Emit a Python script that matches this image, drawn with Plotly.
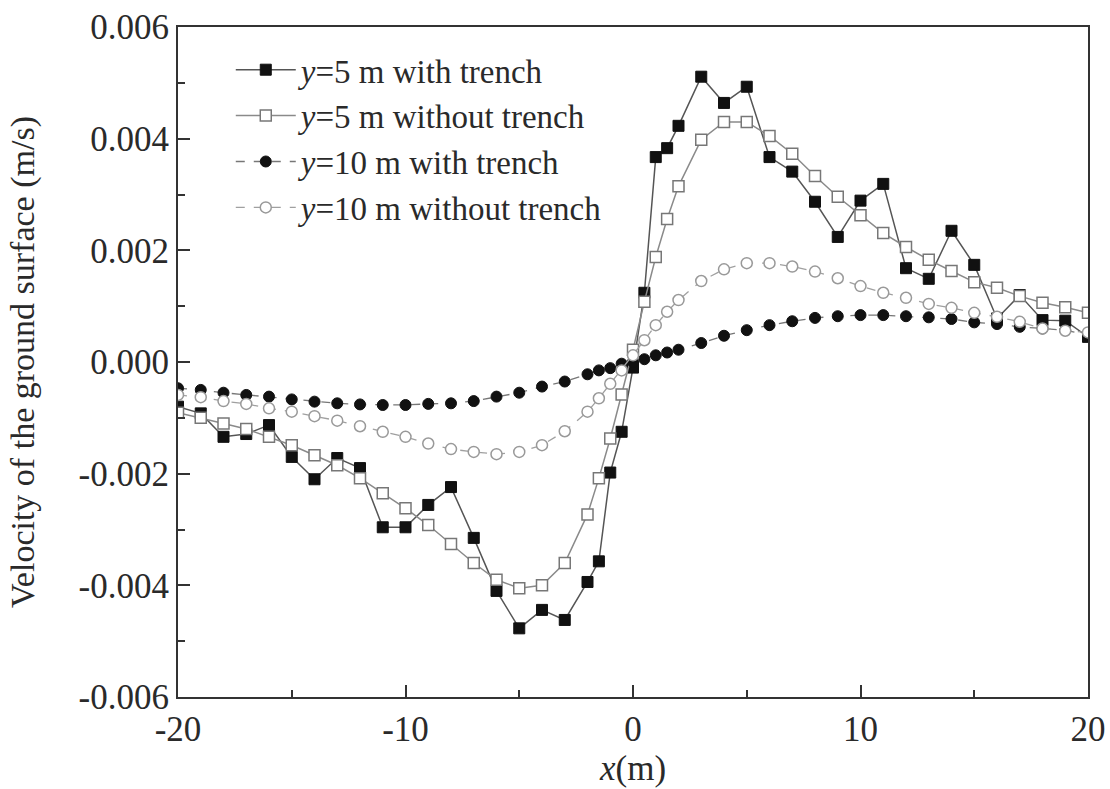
import plotly.graph_objects as go

x_pos = [-20, -19, -18, -17, -16, -15, -14, -13, -12, -11, -10, -9, -8, -7, -6, -5, -4, -3, -2,
         -1.5, -1, -0.5, 0, 0.5, 1, 1.5, 2,
         3, 4, 5, 6, 7, 8, 9, 10, 11, 12, 13, 14, 15, 16, 17, 18, 19, 20]

# values in 1e-3 m/s
y5_with = [-0.80, -0.92, -1.34, -1.29, -1.13, -1.70, -2.10, -1.72, -1.90, -2.96, -2.96, -2.56, -2.24, -3.15, -4.10, -4.77, -4.44, -4.62, -3.94,
           -3.57, -1.98, -1.25, -0.10, 1.24, 3.67, 3.83, 4.23,
           5.11, 4.64, 4.93, 3.67, 3.41, 2.87, 2.24, 2.89, 3.19, 1.68, 1.49, 2.35, 1.74, 0.78, 1.20, 0.75, 0.74, 0.45]
y5_without = [-0.91, -1.00, -1.10, -1.20, -1.34, -1.49, -1.67, -1.85, -2.08, -2.35, -2.62, -2.92, -3.26, -3.60, -3.90, -4.05, -4.00, -3.60, -2.73,
              -2.08, -1.37, -0.58, 0.22, 1.08, 1.88, 2.56, 3.15,
              3.98, 4.30, 4.30, 4.05, 3.73, 3.33, 2.96, 2.63, 2.31, 2.06, 1.83, 1.63, 1.43, 1.33, 1.18, 1.06, 0.98, 0.88]
y10_with = [-0.47, -0.50, -0.55, -0.59, -0.62, -0.67, -0.71, -0.74, -0.76, -0.77, -0.77, -0.75, -0.74, -0.70, -0.62, -0.55, -0.44, -0.35, -0.22,
            -0.15, -0.11, -0.03, 0.00, 0.05, 0.12, 0.17, 0.22,
            0.34, 0.47, 0.57, 0.66, 0.73, 0.79, 0.82, 0.84, 0.84, 0.82, 0.80, 0.77, 0.71, 0.68, 0.63, 0.60, 0.57, 0.48]
y10_without = [-0.59, -0.63, -0.70, -0.75, -0.83, -0.89, -0.97, -1.05, -1.15, -1.25, -1.34, -1.46, -1.56, -1.61, -1.65, -1.61, -1.49, -1.24, -0.89,
               -0.65, -0.39, -0.15, 0.12, 0.39, 0.66, 0.90, 1.11,
               1.45, 1.66, 1.77, 1.77, 1.71, 1.62, 1.50, 1.36, 1.24, 1.15, 1.04, 0.97, 0.88, 0.81, 0.72, 0.60, 0.56, 0.53]

series_names = ["<i>y</i>=5 m with trench", "<i>y</i>=5 m without trench",
                "<i>y</i>=10 m with trench", "<i>y</i>=10 m without trench"]

x_ticks = [-20, -10, 0, 10, 20]
x_ticktext = ["-20", "-10", "0", "10", "20"]
x_minor = [-15, -5, 5, 15]
y_ticks = [-0.006, -0.004, -0.002, 0.0, 0.002, 0.004, 0.006]
y_ticktext = ["-0.006", "-0.004", "-0.002", "0.000", "0.002", "0.004", "0.006"]
y_minor = [-0.005, -0.003, -0.001, 0.001, 0.003, 0.005]

def scale(v):
    return [a * 1e-3 for a in v]

FONT = "Liberation Serif, Times New Roman, serif"
TXT = "#2a2a2a"

fig = go.Figure()
fig.add_trace(go.Scatter(
    x=x_pos, y=scale(y5_with), name=series_names[0], mode="lines+markers",
    line=dict(color="#555555", width=1.5),
    marker=dict(symbol="square", size=11, color="#111111", line=dict(color="#111111", width=1))))
fig.add_trace(go.Scatter(
    x=x_pos, y=scale(y5_without), name=series_names[1], mode="lines+markers",
    line=dict(color="#8a8a8a", width=1.5),
    marker=dict(symbol="square", size=11, color="white", line=dict(color="#777777", width=1.5))))
fig.add_trace(go.Scatter(
    x=x_pos, y=scale(y10_with), name=series_names[2], mode="lines+markers",
    line=dict(color="#777777", width=1.3, dash="dash"),
    marker=dict(symbol="circle", size=11, color="#111111", line=dict(color="#111111", width=1))))
fig.add_trace(go.Scatter(
    x=x_pos, y=scale(y10_without), name=series_names[3], mode="lines+markers",
    line=dict(color="#a0a0a0", width=1.3, dash="dash"),
    marker=dict(symbol="circle", size=11, color="white", line=dict(color="#999999", width=1.5))))

fig.update_layout(
    width=1110, height=789,
    margin=dict(l=178, r=22, t=27, b=92),
    paper_bgcolor="white", plot_bgcolor="white",
    font=dict(family=FONT, size=34, color=TXT),
    showlegend=True,
    legend=dict(x=0.058, y=0.978, xanchor="left", yanchor="top",
                bgcolor="rgba(0,0,0,0)", borderwidth=0,
                font=dict(family=FONT, size=33, color=TXT),
                itemwidth=60, tracegroupgap=0),
)
fig.update_xaxes(
    range=[-20, 20], showgrid=False, zeroline=False, automargin=False,
    showline=True, linecolor="#333333", linewidth=2, mirror=True,
    ticks="inside", ticklen=12, tickwidth=2, tickcolor="#333333",
    tickmode="array", tickvals=x_ticks, ticktext=x_ticktext,
    tickfont=dict(family=FONT, size=35, color=TXT),
    minor=dict(ticks="inside", ticklen=7, tickwidth=2, tickcolor="#333333", tickvals=x_minor),
    title=dict(text="<i>x</i>(m)", font=dict(family=FONT, size=35, color=TXT), standoff=0),
)
fig.update_yaxes(
    range=[-0.006, 0.006], showgrid=False, zeroline=False, automargin=False,
    showline=True, linecolor="#333333", linewidth=2, mirror=True,
    ticks="inside", ticklen=12, tickwidth=2, tickcolor="#333333",
    tickmode="array", tickvals=y_ticks, ticktext=y_ticktext,
    tickfont=dict(family=FONT, size=35, color=TXT),
    minor=dict(ticks="inside", ticklen=7, tickwidth=2, tickcolor="#333333", tickvals=y_minor),
    title=dict(text="Velocity of the ground surface (m/s)", font=dict(family=FONT, size=34, color=TXT), standoff=34),
)

fig.write_html("out.html")
